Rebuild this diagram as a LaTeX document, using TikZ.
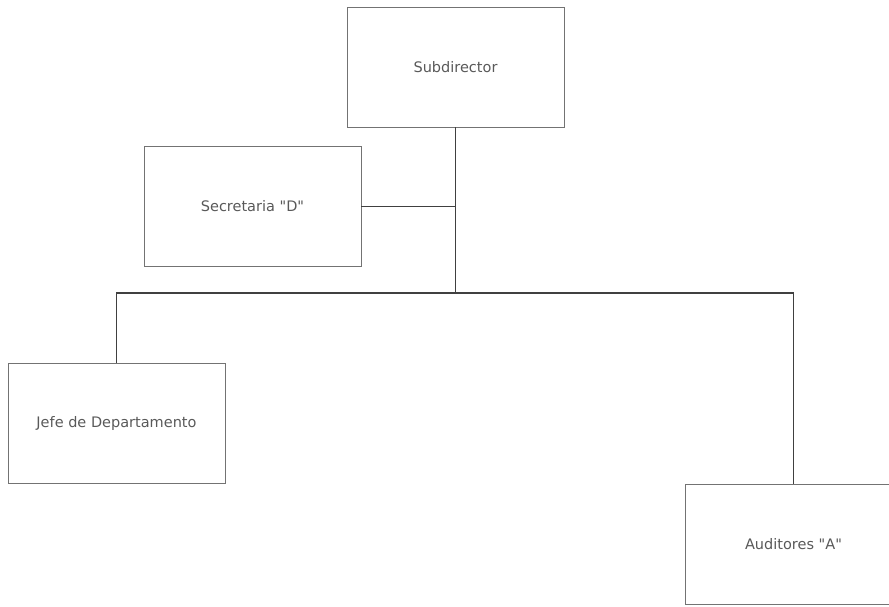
\documentclass[tikz,border=0pt]{standalone}
\usepackage{fontspec}
\setmainfont{DejaVu Sans}[Ligatures=TeXOff]
\usepackage{xcolor}
\usetikzlibrary{positioning,calc}

\tikzset{
    orgbox/.style={draw=black!55, line width=0.9pt, minimum width=217pt, minimum height=120pt, text=black!65, font=\fontsize{14.5}{16}\selectfont},
    orgline/.style={draw=black!75, line width=1.5pt}
}

\begin{document}
\begin{tikzpicture}[x=1pt, y=1pt]
    \clip (0,0) rectangle (889,-606);

    % Boxes
    \node[orgbox] (sub) at (455.5,-67) {Subdirector};
    \node[orgbox] (sec) at (252.5,-206.5) {Secretaria "D"};
    \node[orgbox] (jefe) at (116.5,-423) {Jefe de Departamento};
    \node[orgbox] (aud) at (793.5,-544) {Auditores "A"};

    % Lines
    \coordinate (bar) at ($(sub.south |- 0,-293)$);
    \draw[orgline] (sub.south) -- (bar);
    \draw[orgline] (sec.east) -- (sub.south |- sec.east);
    \draw[orgline] (jefe.north) |- (bar) -| (aud.north);
\end{tikzpicture}
\end{document}
